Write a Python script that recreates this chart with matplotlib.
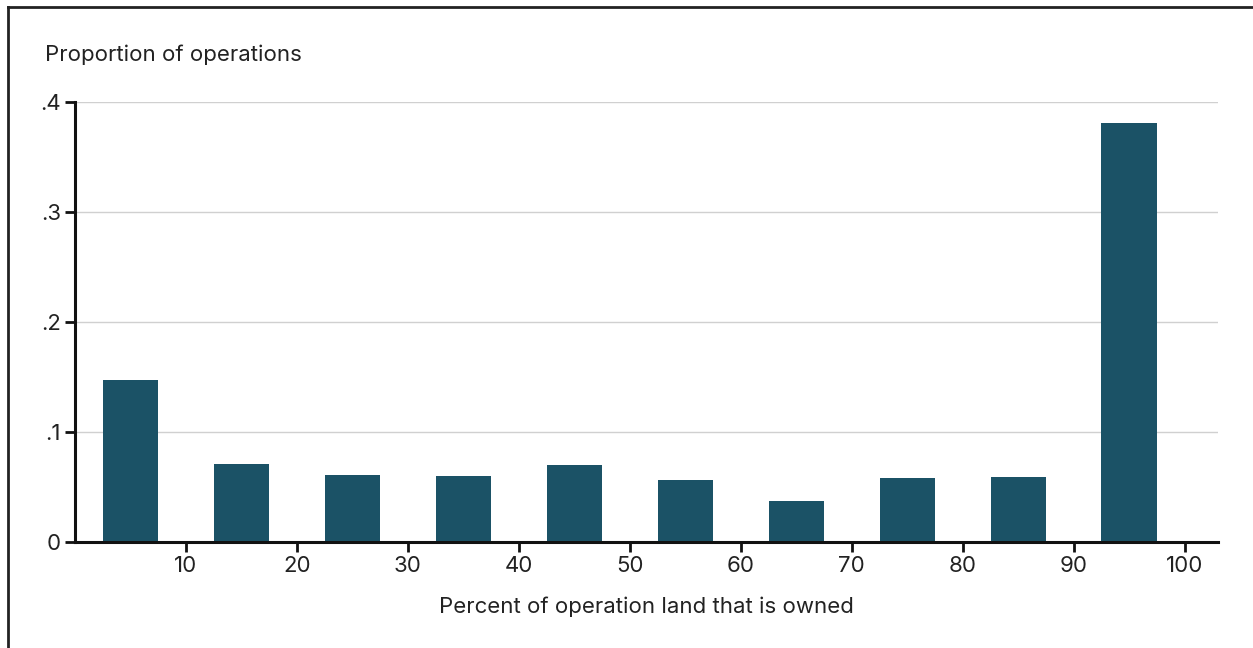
import numpy as np
import matplotlib.pyplot as plt
from matplotlib.ticker import FuncFormatter
from matplotlib.lines import Line2D

# Share of operations by percent of operated land that is owned (10-point bins)
bin_centers = [5, 15, 25, 35, 45, 55, 65, 75, 85, 95]
proportions = [0.147, 0.071, 0.061, 0.060, 0.070, 0.056, 0.037, 0.058, 0.059, 0.381]
x_ticks = [10, 20, 30, 40, 50, 60, 70, 80, 90, 100]
y_ticks = [0, 0.1, 0.2, 0.3, 0.4]

bar_color = '#1b5266'
text_color = '#222222'


def main():
    plt.rcParams['font.family'] = ['Inter', 'DejaVu Sans']
    fig = plt.figure(figsize=(12.53, 6.48), dpi=100)
    ax = fig.add_axes([75 / 1253, 1 - 542 / 648, (1218 - 75) / 1253, (542 - 102) / 648])

    ax.bar(bin_centers, proportions, width=5, color=bar_color, zorder=2)

    ax.set_xlim(0, 103)
    ax.set_ylim(0, 0.4)
    ax.set_xticks(x_ticks)
    ax.set_yticks(y_ticks)

    def y_fmt(v, pos):
        if v == 0:
            return '0'
        return f'{v:.1f}'.lstrip('0')

    ax.yaxis.set_major_formatter(FuncFormatter(y_fmt))
    ax.grid(axis='y', color='#d0d0d0', lw=1, zorder=0)
    ax.tick_params(axis='both', length=7, width=2, color='#111111', labelsize=16,
                   labelcolor=text_color, pad=3)
    for side in ['top', 'right']:
        ax.spines[side].set_visible(False)
    for side in ['left', 'bottom']:
        ax.spines[side].set_linewidth(2.2)
        ax.spines[side].set_color('#111111')

    ax.set_xlabel('Percent of operation land that is owned', fontsize=16, color=text_color,
                  labelpad=15)
    fig.text(45 / 1253, 1 - 55 / 648, 'Proportion of operations', fontsize=16,
             color=text_color, va='center', ha='left')

    # outer frame (left and top edges)
    fig.add_artist(Line2D([8 / 1253, 8 / 1253], [0, 1 - 7 / 648], transform=fig.transFigure,
                          color='#222222', lw=2))
    fig.add_artist(Line2D([8 / 1253, 1], [1 - 7 / 648, 1 - 7 / 648], transform=fig.transFigure,
                          color='#222222', lw=2))

    fig.savefig('out.png', dpi=100)


if __name__ == '__main__':
    main()
